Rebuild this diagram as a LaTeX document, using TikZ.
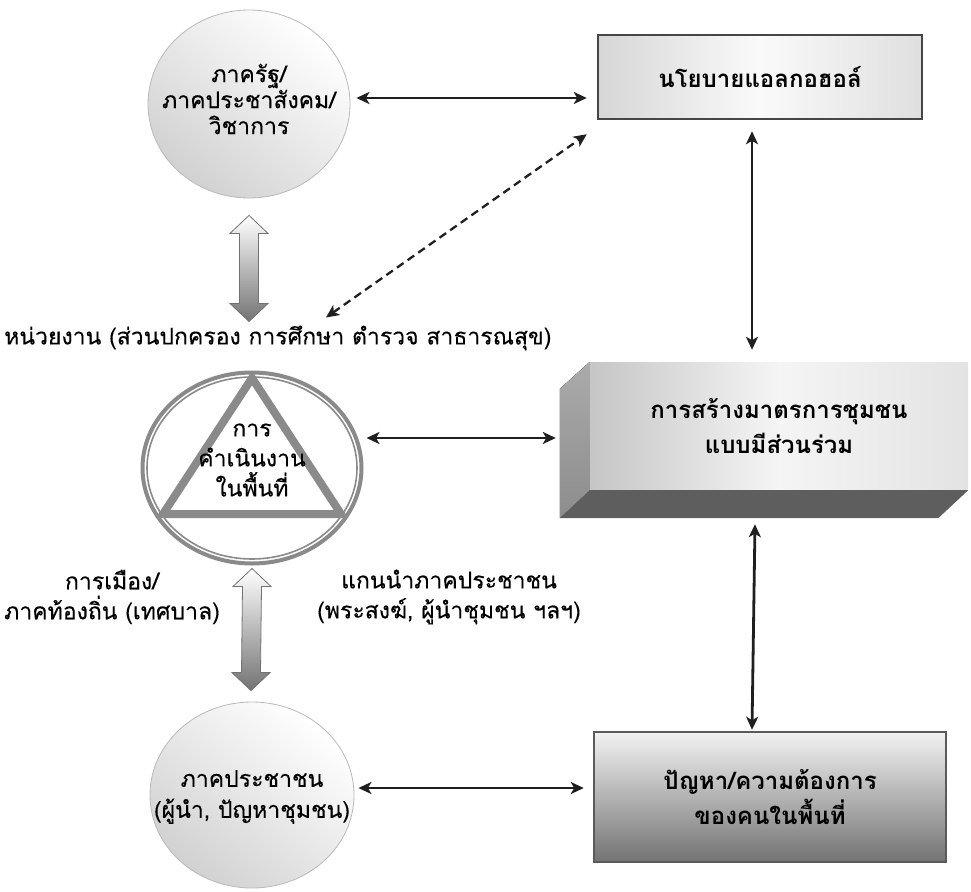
\documentclass[tikz,border=0pt]{standalone}
\usepackage{fontspec}
\setmainfont[Script=Thai]{Loma}
\newfontfamily\thaimed[Script=Thai,FakeBold=0.25]{Loma}
\usetikzlibrary{shapes.geometric,arrows.meta,calc}
\definecolor{ringgray}{HTML}{8A8A8A}
\definecolor{edgegray}{HTML}{5A5A5A}
\begin{document}
\begin{tikzpicture}[x=1pt,y=-1pt,
  circ/.style={ellipse, draw=gray!55, line width=0.8pt, top color=white, bottom color=gray!36, shading angle=-40, inner sep=0pt},
  txt/.style={font=\thaimed\fontsize{23}{30}\selectfont, align=center, inner sep=0pt},
  boxtxt/.style={font=\bfseries\fontsize{24}{35}\selectfont, align=center, inner sep=0pt},
  twoway/.style={{Stealth[length=13pt,width=12pt,inset=3.5pt]}-{Stealth[length=13pt,width=12pt,inset=3.5pt]}, line width=2.8pt, black!88},
  dashtwo/.style={twoway, dash pattern=on 8pt off 5pt, line width=2.3pt},
  blockarr/.style={draw=black!55, line width=0.8pt, top color=white, bottom color=black!55, line join=miter},
]
\useasboundingbox (0,0) rectangle (971,891);

% left column circles
\node[circ, minimum width=202pt, minimum height=188pt] (c1) at (249,104) {};
\node[txt, font=\thaimed\fontsize{23}{26}\selectfont] (c1t) at (249,99) {ภาครัฐ/\\ภาคประชาสังคม/\\วิชาการ};
\node[circ, minimum width=204pt, minimum height=186pt] (c3) at (252,795) {};
\node[txt, font=\thaimed\fontsize{23}{31}\selectfont] (c3t) at (252,797) {ภาคประชาชน\\(ผู้นำ, ปัญหาชุมชน)};

% middle ring with triangle
\node[ellipse, draw=ringgray, line width=4pt, minimum width=219pt, minimum height=191pt, inner sep=0pt] (c2) at (252,468) {};
\draw[ringgray, line width=1.6pt] (252,468) ellipse [x radius=105, y radius=91];
\draw[ringgray, line width=8pt, line join=miter] (252,378) -- (341,514) -- (163,514) -- cycle;
\node[txt] (c2t) at (252,460) {การ\\คำเนินงาน\\ในพื้นที่};

% labels
\node[txt, anchor=west] (hub) at (4,338) {หน่วยงาน (ส่วนปกครอง การศึกษา ตำรวจ สาธารณสุข)};
\node[txt] (polit) at (112,597) {การเมือง/\\ภาคท้องถิ่น (เทศบาล)};
\node[txt] (lead) at (449,597) {แกนนำภาคประชาชน\\(พระสงฆ์, ผู้นำชุมชน ฯลฯ)};

% right column boxes
\node[draw=gray!55!black, line width=2.5pt, minimum width=324pt, minimum height=84pt, left color=gray!32, right color=gray!25, middle color=gray!4, boxtxt] (b1) at (760,77) {นโยบายแอลกอฮอล์};

\node[minimum width=378pt, minimum height=128pt, left color=gray!45, right color=gray!22, middle color=gray!8, boxtxt] (b2) at (779,426) {การสร้างมาตรการชุมชน\\แบบมีส่วนร่วม};
\fill[top color=black!33, bottom color=black!45] (b2.north west) -- ++(-30,27) -- ($(b2.south west)+(-30,28)$) -- (b2.south west) -- cycle;
\fill[black!63] (b2.south west) -- (b2.south east) -- ++(-30,28) -- ($(b2.south west)+(-30,28)$) -- cycle;

\node[draw=edgegray, line width=2.5pt, minimum width=352pt, minimum height=130pt, top color=gray!10, bottom color=black!55, boxtxt] (b3) at (770,797) {ปัญหา/ความต้องการ\\ของคนในพื้นที่};

% block arrows
\coordinate (ba1t) at ($(c1.south)+(0,17)$);
\coordinate (ba1b) at ($(c2.north)+(-3,-49)$);
\draw[blockarr] (ba1t) -- ++(19,18) -- ++(-9.5,0) -- ($(ba1b)+(9.5,-18)$) -- ++(9.5,0) -- (ba1b) -- ++(-19,-18) -- ++(9.5,0) -- ($(ba1t)+(-9.5,18)$) -- ++(-9.5,0) -- cycle;
\coordinate (ba2t) at ($(c2.south)+(0,3)$);
\coordinate (ba2b) at ($(c3.north)+(-1,-11)$);
\draw[blockarr] (ba2t) -- ++(19,18) -- ++(-9.5,0) -- ($(ba2b)+(9.5,-18)$) -- ++(9.5,0) -- (ba2b) -- ++(-19,-18) -- ++(9.5,0) -- ($(ba2t)+(-9.5,18)$) -- ++(-9.5,0) -- cycle;

% thin arrows
\draw[twoway] ($(c1.east)+(6,-6)$) -- ($(b1.west |- c1.east)+(-10,-6)$);
\draw[dashtwo] ($(c2.north)+(74,-53)$) -- ($(b1.south west)+(-10,14)$);
\draw[twoway] ($(b1.south)+(-8,11)$) -- ($(b2.north)+(-27,-12)$);
\draw[twoway] ($(c2.east)+(3,-30)$) -- ($(b2.west)+(-34,12)$);
\draw[twoway] ($(b2.south)+(-24,34)$) -- ($(b3.north)+(-18,-1)$);
\draw[twoway] ($(c3.east)+(4,-7)$) -- ($(b3.west)+(-9,-9)$);
\end{tikzpicture}
\end{document}
